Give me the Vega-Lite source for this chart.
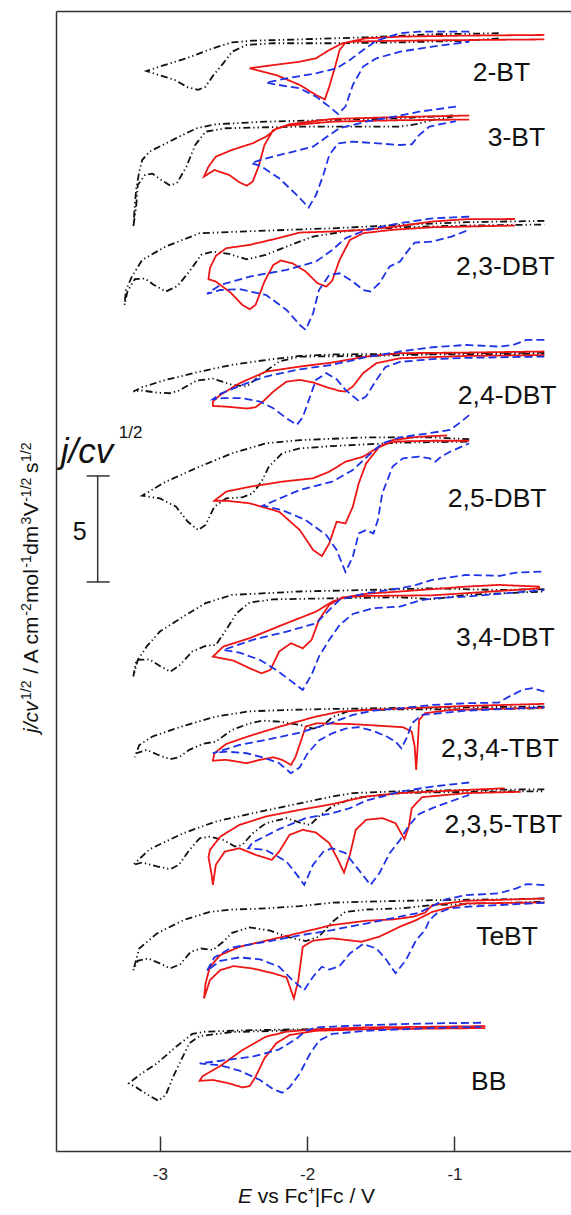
{
"$schema": "https://vega.github.io/schema/vega-lite/v6.json",
"autosize": {"type": "none"},
"padding": {"left": 56, "top": 11, "right": 0, "bottom": 64},
"width": 515,
"height": 1140,
"config": {"view": {"stroke": null}, "axis": {"grid": false}, "text": {"font": "Liberation Sans"}},
"resolve": {"axis": {"x": "independent", "y": "independent"}},
"datasets": {
"cv": [
{"c":1,"s":"k","E":-0.70,"j":52.72},{"c":1,"s":"k","E":-1.15,"j":52.67},{"c":1,"s":"k","E":-1.60,"j":52.53},{"c":1,"s":"k","E":-2.05,"j":52.43},{"c":1,"s":"k","E":-2.37,"j":52.37},{"c":1,"s":"k","E":-2.51,"j":52.29},{"c":1,"s":"k","E":-2.64,"j":52.01},{"c":1,"s":"k","E":-2.82,"j":51.54},{"c":1,"s":"k","E":-3.00,"j":51.15},{"c":1,"s":"k","E":-3.09,"j":50.94},{"c":1,"s":"k","E":-3.03,"j":50.80},{"c":1,"s":"k","E":-2.90,"j":50.52},{"c":1,"s":"k","E":-2.81,"j":50.17},{"c":1,"s":"k","E":-2.74,"j":50.05},{"c":1,"s":"k","E":-2.69,"j":50.20},{"c":1,"s":"k","E":-2.64,"j":50.71},{"c":1,"s":"k","E":-2.57,"j":51.30},{"c":1,"s":"k","E":-2.51,"j":51.85},{"c":1,"s":"k","E":-2.41,"j":52.17},{"c":1,"s":"k","E":-2.23,"j":52.25},{"c":1,"s":"k","E":-1.83,"j":52.25},{"c":1,"s":"k","E":-1.37,"j":52.29},{"c":1,"s":"k","E":-0.92,"j":52.37},{"c":1,"s":"k","E":-0.70,"j":52.48},
{"c":1,"s":"r","E":-0.39,"j":52.64},{"c":1,"s":"r","E":-0.92,"j":52.61},{"c":1,"s":"r","E":-1.37,"j":52.56},{"c":1,"s":"r","E":-1.60,"j":52.48},{"c":1,"s":"r","E":-1.74,"j":52.28},{"c":1,"s":"r","E":-1.78,"j":51.93},{"c":1,"s":"r","E":-1.81,"j":51.15},{"c":1,"s":"r","E":-1.85,"j":50.20},{"c":1,"s":"r","E":-1.88,"j":49.60},{"c":1,"s":"r","E":-1.94,"j":49.81},{"c":1,"s":"r","E":-2.05,"j":50.28},{"c":1,"s":"r","E":-2.21,"j":50.75},{"c":1,"s":"r","E":-2.39,"j":51.07},{"c":1,"s":"r","E":-2.23,"j":51.22},{"c":1,"s":"r","E":-2.05,"j":51.38},{"c":1,"s":"r","E":-1.94,"j":51.54},{"c":1,"s":"r","E":-1.85,"j":51.93},{"c":1,"s":"r","E":-1.76,"j":52.25},{"c":1,"s":"r","E":-1.69,"j":52.33},{"c":1,"s":"r","E":-1.37,"j":52.37},{"c":1,"s":"r","E":-0.92,"j":52.40},{"c":1,"s":"r","E":-0.39,"j":52.43},
{"c":1,"s":"b","E":-0.90,"j":52.80},{"c":1,"s":"b","E":-1.24,"j":52.80},{"c":1,"s":"b","E":-1.37,"j":52.72},{"c":1,"s":"b","E":-1.53,"j":52.37},{"c":1,"s":"b","E":-1.62,"j":51.93},{"c":1,"s":"b","E":-1.71,"j":51.46},{"c":1,"s":"b","E":-1.80,"j":51.07},{"c":1,"s":"b","E":-1.94,"j":50.83},{"c":1,"s":"b","E":-2.14,"j":50.59},{"c":1,"s":"b","E":-2.28,"j":50.39},{"c":1,"s":"b","E":-2.19,"j":50.28},{"c":1,"s":"b","E":-2.05,"j":50.12},{"c":1,"s":"b","E":-1.94,"j":49.73},{"c":1,"s":"b","E":-1.85,"j":49.26},{"c":1,"s":"b","E":-1.79,"j":48.91},{"c":1,"s":"b","E":-1.74,"j":49.26},{"c":1,"s":"b","E":-1.69,"j":50.28},{"c":1,"s":"b","E":-1.62,"j":51.15},{"c":1,"s":"b","E":-1.53,"j":51.54},{"c":1,"s":"b","E":-1.37,"j":51.85},{"c":1,"s":"b","E":-1.15,"j":52.09},{"c":1,"s":"b","E":-0.90,"j":52.32},
{"c":2,"s":"k","E":-1.01,"j":48.84},{"c":2,"s":"k","E":-1.37,"j":48.71},{"c":2,"s":"k","E":-1.83,"j":48.63},{"c":2,"s":"k","E":-2.28,"j":48.55},{"c":2,"s":"k","E":-2.62,"j":48.43},{"c":2,"s":"k","E":-2.75,"j":48.24},{"c":2,"s":"k","E":-2.87,"j":47.84},{"c":2,"s":"k","E":-2.98,"j":47.45},{"c":2,"s":"k","E":-3.07,"j":47.14},{"c":2,"s":"k","E":-3.12,"j":46.74},{"c":2,"s":"k","E":-3.14,"j":46.19},{"c":2,"s":"k","E":-3.16,"j":45.41},{"c":2,"s":"k","E":-3.17,"j":44.62},{"c":2,"s":"k","E":-3.18,"j":43.58},{"c":2,"s":"k","E":-3.16,"j":44.62},{"c":2,"s":"k","E":-3.15,"j":45.56},{"c":2,"s":"k","E":-3.10,"j":46.04},{"c":2,"s":"k","E":-3.05,"j":46.10},{"c":2,"s":"k","E":-2.99,"j":45.80},{"c":2,"s":"k","E":-2.93,"j":45.53},{"c":2,"s":"k","E":-2.88,"j":45.69},{"c":2,"s":"k","E":-2.82,"j":46.43},{"c":2,"s":"k","E":-2.76,"j":47.45},{"c":2,"s":"k","E":-2.69,"j":48.08},{"c":2,"s":"k","E":-2.55,"j":48.24},{"c":2,"s":"k","E":-2.05,"j":48.32},{"c":2,"s":"k","E":-1.37,"j":48.32},{"c":2,"s":"k","E":-1.26,"j":48.43},{"c":2,"s":"k","E":-1.15,"j":48.63},{"c":2,"s":"k","E":-1.01,"j":48.79},
{"c":2,"s":"r","E":-0.90,"j":48.84},{"c":2,"s":"r","E":-1.37,"j":48.77},{"c":2,"s":"r","E":-1.83,"j":48.68},{"c":2,"s":"r","E":-2.12,"j":48.43},{"c":2,"s":"r","E":-2.21,"j":48.21},{"c":2,"s":"r","E":-2.28,"j":47.84},{"c":2,"s":"r","E":-2.37,"j":47.53},{"c":2,"s":"r","E":-2.51,"j":47.22},{"c":2,"s":"r","E":-2.62,"j":46.90},{"c":2,"s":"r","E":-2.67,"j":46.43},{"c":2,"s":"r","E":-2.70,"j":45.96},{"c":2,"s":"r","E":-2.63,"j":46.27},{"c":2,"s":"r","E":-2.53,"j":46.04},{"c":2,"s":"r","E":-2.46,"j":45.69},{"c":2,"s":"r","E":-2.41,"j":45.53},{"c":2,"s":"r","E":-2.37,"j":45.72},{"c":2,"s":"r","E":-2.33,"j":46.43},{"c":2,"s":"r","E":-2.29,"j":47.45},{"c":2,"s":"r","E":-2.23,"j":48.16},{"c":2,"s":"r","E":-2.14,"j":48.36},{"c":2,"s":"r","E":-1.83,"j":48.55},{"c":2,"s":"r","E":-1.37,"j":48.62},{"c":2,"s":"r","E":-0.90,"j":48.65},
{"c":2,"s":"b","E":-0.99,"j":49.26},{"c":2,"s":"b","E":-1.24,"j":49.02},{"c":2,"s":"b","E":-1.37,"j":48.84},{"c":2,"s":"b","E":-1.60,"j":48.55},{"c":2,"s":"b","E":-1.78,"j":48.24},{"c":2,"s":"b","E":-1.85,"j":47.92},{"c":2,"s":"b","E":-1.96,"j":47.37},{"c":2,"s":"b","E":-2.14,"j":47.06},{"c":2,"s":"b","E":-2.32,"j":46.74},{"c":2,"s":"b","E":-2.38,"j":46.59},{"c":2,"s":"b","E":-2.32,"j":46.48},{"c":2,"s":"b","E":-2.19,"j":45.88},{"c":2,"s":"b","E":-2.07,"j":45.09},{"c":2,"s":"b","E":-1.99,"j":44.50},{"c":2,"s":"b","E":-1.94,"j":45.09},{"c":2,"s":"b","E":-1.89,"j":46.04},{"c":2,"s":"b","E":-1.85,"j":46.98},{"c":2,"s":"b","E":-1.79,"j":47.53},{"c":2,"s":"b","E":-1.69,"j":47.61},{"c":2,"s":"b","E":-1.37,"j":47.45},{"c":2,"s":"b","E":-1.29,"j":47.48},{"c":2,"s":"b","E":-1.24,"j":47.92},{"c":2,"s":"b","E":-1.17,"j":48.32},{"c":2,"s":"b","E":-0.99,"j":48.58},
{"c":3,"s":"k","E":-0.39,"j":43.87},{"c":3,"s":"k","E":-0.92,"j":43.81},{"c":3,"s":"k","E":-1.37,"j":43.68},{"c":3,"s":"k","E":-1.83,"j":43.52},{"c":3,"s":"k","E":-2.28,"j":43.41},{"c":3,"s":"k","E":-2.73,"j":43.29},{"c":3,"s":"k","E":-2.96,"j":42.66},{"c":3,"s":"k","E":-3.12,"j":42.03},{"c":3,"s":"k","E":-3.19,"j":41.24},{"c":3,"s":"k","E":-3.23,"j":40.61},{"c":3,"s":"k","E":-3.24,"j":39.91},{"c":3,"s":"k","E":-3.22,"j":40.54},{"c":3,"s":"k","E":-3.17,"j":41.12},{"c":3,"s":"k","E":-3.10,"j":41.15},{"c":3,"s":"k","E":-3.04,"j":40.85},{"c":3,"s":"k","E":-2.96,"j":40.54},{"c":3,"s":"k","E":-2.88,"j":40.80},{"c":3,"s":"k","E":-2.80,"j":41.48},{"c":3,"s":"k","E":-2.72,"j":42.27},{"c":3,"s":"k","E":-2.64,"j":42.42},{"c":3,"s":"k","E":-2.53,"j":42.31},{"c":3,"s":"k","E":-2.41,"j":42.06},{"c":3,"s":"k","E":-2.28,"j":42.27},{"c":3,"s":"k","E":-2.14,"j":42.66},{"c":3,"s":"k","E":-1.96,"j":43.13},{"c":3,"s":"k","E":-1.71,"j":43.41},{"c":3,"s":"k","E":-1.37,"j":43.57},{"c":3,"s":"k","E":-0.92,"j":43.65},{"c":3,"s":"k","E":-0.39,"j":43.70},
{"c":3,"s":"r","E":-0.59,"j":43.96},{"c":3,"s":"r","E":-0.92,"j":43.95},{"c":3,"s":"r","E":-1.15,"j":43.84},{"c":3,"s":"r","E":-1.37,"j":43.63},{"c":3,"s":"r","E":-1.60,"j":43.45},{"c":3,"s":"r","E":-1.83,"j":43.37},{"c":3,"s":"r","E":-2.05,"j":43.32},{"c":3,"s":"r","E":-2.23,"j":43.00},{"c":3,"s":"r","E":-2.39,"j":42.74},{"c":3,"s":"r","E":-2.55,"j":42.58},{"c":3,"s":"r","E":-2.62,"j":42.22},{"c":3,"s":"r","E":-2.66,"j":41.64},{"c":3,"s":"r","E":-2.67,"j":41.12},{"c":3,"s":"r","E":-2.62,"j":41.01},{"c":3,"s":"r","E":-2.52,"j":40.49},{"c":3,"s":"r","E":-2.44,"j":39.91},{"c":3,"s":"r","E":-2.39,"j":39.70},{"c":3,"s":"r","E":-2.35,"j":39.91},{"c":3,"s":"r","E":-2.29,"j":41.01},{"c":3,"s":"r","E":-2.23,"j":41.79},{"c":3,"s":"r","E":-2.18,"j":42.00},{"c":3,"s":"r","E":-2.10,"j":41.87},{"c":3,"s":"r","E":-2.01,"j":41.48},{"c":3,"s":"r","E":-1.93,"j":40.93},{"c":3,"s":"r","E":-1.87,"j":40.77},{"c":3,"s":"r","E":-1.83,"j":41.05},{"c":3,"s":"r","E":-1.78,"j":42.03},{"c":3,"s":"r","E":-1.71,"j":42.97},{"c":3,"s":"r","E":-1.62,"j":43.29},{"c":3,"s":"r","E":-1.42,"j":43.45},{"c":3,"s":"r","E":-1.15,"j":43.57},{"c":3,"s":"r","E":-0.59,"j":43.65},
{"c":3,"s":"b","E":-0.90,"j":44.07},{"c":3,"s":"b","E":-1.15,"j":43.99},{"c":3,"s":"b","E":-1.37,"j":43.76},{"c":3,"s":"b","E":-1.60,"j":43.45},{"c":3,"s":"b","E":-1.74,"j":43.05},{"c":3,"s":"b","E":-1.83,"j":42.50},{"c":3,"s":"b","E":-1.94,"j":41.95},{"c":3,"s":"b","E":-2.14,"j":41.56},{"c":3,"s":"b","E":-2.39,"j":41.24},{"c":3,"s":"b","E":-2.59,"j":40.85},{"c":3,"s":"b","E":-2.68,"j":40.43},{"c":3,"s":"b","E":-2.59,"j":40.61},{"c":3,"s":"b","E":-2.46,"j":40.65},{"c":3,"s":"b","E":-2.28,"j":40.38},{"c":3,"s":"b","E":-2.14,"j":39.67},{"c":3,"s":"b","E":-2.05,"j":38.96},{"c":3,"s":"b","E":-2.01,"j":38.73},{"c":3,"s":"b","E":-1.96,"j":39.51},{"c":3,"s":"b","E":-1.92,"j":40.61},{"c":3,"s":"b","E":-1.85,"j":41.32},{"c":3,"s":"b","E":-1.78,"j":41.40},{"c":3,"s":"b","E":-1.69,"j":41.01},{"c":3,"s":"b","E":-1.62,"j":40.61},{"c":3,"s":"b","E":-1.57,"j":40.54},{"c":3,"s":"b","E":-1.51,"j":40.93},{"c":3,"s":"b","E":-1.44,"j":41.72},{"c":3,"s":"b","E":-1.37,"j":41.95},{"c":3,"s":"b","E":-1.33,"j":42.34},{"c":3,"s":"b","E":-1.27,"j":42.85},{"c":3,"s":"b","E":-1.15,"j":42.89},{"c":3,"s":"b","E":-1.02,"j":43.13},{"c":3,"s":"b","E":-0.90,"j":43.45},
{"c":4,"s":"k","E":-0.39,"j":37.66},{"c":4,"s":"k","E":-0.92,"j":37.63},{"c":4,"s":"k","E":-1.37,"j":37.60},{"c":4,"s":"k","E":-1.83,"j":37.57},{"c":4,"s":"k","E":-2.05,"j":37.50},{"c":4,"s":"k","E":-2.28,"j":37.31},{"c":4,"s":"k","E":-2.51,"j":37.08},{"c":4,"s":"k","E":-2.73,"j":36.76},{"c":4,"s":"k","E":-2.96,"j":36.37},{"c":4,"s":"k","E":-3.12,"j":36.03},{"c":4,"s":"k","E":-3.18,"j":35.82},{"c":4,"s":"k","E":-3.12,"j":35.87},{"c":4,"s":"k","E":-3.02,"j":35.77},{"c":4,"s":"k","E":-2.93,"j":35.74},{"c":4,"s":"k","E":-2.87,"j":35.87},{"c":4,"s":"k","E":-2.75,"j":36.34},{"c":4,"s":"k","E":-2.64,"j":36.43},{"c":4,"s":"k","E":-2.51,"j":36.14},{"c":4,"s":"k","E":-2.41,"j":36.06},{"c":4,"s":"k","E":-2.30,"j":36.69},{"c":4,"s":"k","E":-2.19,"j":37.24},{"c":4,"s":"k","E":-2.05,"j":37.47},{"c":4,"s":"k","E":-1.60,"j":37.50},{"c":4,"s":"k","E":-1.15,"j":37.57},{"c":4,"s":"k","E":-0.39,"j":37.60},
{"c":4,"s":"r","E":-0.39,"j":37.71},{"c":4,"s":"r","E":-0.92,"j":37.66},{"c":4,"s":"r","E":-1.37,"j":37.63},{"c":4,"s":"r","E":-1.60,"j":37.47},{"c":4,"s":"r","E":-1.83,"j":37.19},{"c":4,"s":"r","E":-2.05,"j":37.00},{"c":4,"s":"r","E":-2.28,"j":36.76},{"c":4,"s":"r","E":-2.46,"j":36.21},{"c":4,"s":"r","E":-2.59,"j":35.66},{"c":4,"s":"r","E":-2.64,"j":35.35},{"c":4,"s":"r","E":-2.64,"j":35.14},{"c":4,"s":"r","E":-2.55,"j":35.11},{"c":4,"s":"r","E":-2.41,"j":35.02},{"c":4,"s":"r","E":-2.35,"j":35.08},{"c":4,"s":"r","E":-2.30,"j":35.35},{"c":4,"s":"r","E":-2.23,"j":35.82},{"c":4,"s":"r","E":-2.14,"j":36.29},{"c":4,"s":"r","E":-2.05,"j":36.37},{"c":4,"s":"r","E":-1.96,"j":36.25},{"c":4,"s":"r","E":-1.87,"j":36.03},{"c":4,"s":"r","E":-1.78,"j":35.85},{"c":4,"s":"r","E":-1.74,"j":35.82},{"c":4,"s":"r","E":-1.69,"j":36.06},{"c":4,"s":"r","E":-1.62,"j":36.69},{"c":4,"s":"r","E":-1.53,"j":37.16},{"c":4,"s":"r","E":-1.37,"j":37.39},{"c":4,"s":"r","E":-0.92,"j":37.50},{"c":4,"s":"r","E":-0.39,"j":37.54},
{"c":4,"s":"b","E":-0.39,"j":38.26},{"c":4,"s":"b","E":-0.51,"j":38.26},{"c":4,"s":"b","E":-0.60,"j":38.02},{"c":4,"s":"b","E":-0.69,"j":37.94},{"c":4,"s":"b","E":-0.92,"j":38.02},{"c":4,"s":"b","E":-1.15,"j":37.91},{"c":4,"s":"b","E":-1.37,"j":37.71},{"c":4,"s":"b","E":-1.60,"j":37.44},{"c":4,"s":"b","E":-1.83,"j":37.08},{"c":4,"s":"b","E":-2.05,"j":36.87},{"c":4,"s":"b","E":-2.28,"j":36.53},{"c":4,"s":"b","E":-2.44,"j":36.14},{"c":4,"s":"b","E":-2.59,"j":35.71},{"c":4,"s":"b","E":-2.64,"j":35.46},{"c":4,"s":"b","E":-2.57,"j":35.51},{"c":4,"s":"b","E":-2.44,"j":35.51},{"c":4,"s":"b","E":-2.32,"j":35.35},{"c":4,"s":"b","E":-2.23,"j":35.03},{"c":4,"s":"b","E":-2.14,"j":34.56},{"c":4,"s":"b","E":-2.07,"j":34.25},{"c":4,"s":"b","E":-2.03,"j":34.61},{"c":4,"s":"b","E":-1.98,"j":35.59},{"c":4,"s":"b","E":-1.94,"j":36.37},{"c":4,"s":"b","E":-1.87,"j":36.69},{"c":4,"s":"b","E":-1.80,"j":36.40},{"c":4,"s":"b","E":-1.74,"j":35.90},{"c":4,"s":"b","E":-1.65,"j":35.38},{"c":4,"s":"b","E":-1.60,"j":35.59},{"c":4,"s":"b","E":-1.53,"j":36.37},{"c":4,"s":"b","E":-1.47,"j":36.97},{"c":4,"s":"b","E":-1.37,"j":37.22},{"c":4,"s":"b","E":-1.15,"j":37.35},{"c":4,"s":"b","E":-0.92,"j":37.41},{"c":4,"s":"b","E":-0.39,"j":37.47},
{"c":5,"s":"k","E":-0.90,"j":33.57},{"c":5,"s":"k","E":-1.15,"j":33.66},{"c":5,"s":"k","E":-1.60,"j":33.66},{"c":5,"s":"k","E":-2.05,"j":33.53},{"c":5,"s":"k","E":-2.28,"j":33.38},{"c":5,"s":"k","E":-2.51,"j":32.91},{"c":5,"s":"k","E":-2.73,"j":32.28},{"c":5,"s":"k","E":-2.96,"j":31.57},{"c":5,"s":"k","E":-3.12,"j":30.91},{"c":5,"s":"k","E":-3.00,"j":30.78},{"c":5,"s":"k","E":-2.89,"j":30.39},{"c":5,"s":"k","E":-2.81,"j":29.68},{"c":5,"s":"k","E":-2.74,"j":29.29},{"c":5,"s":"k","E":-2.69,"j":29.53},{"c":5,"s":"k","E":-2.63,"j":30.39},{"c":5,"s":"k","E":-2.55,"j":30.78},{"c":5,"s":"k","E":-2.44,"j":30.83},{"c":5,"s":"k","E":-2.37,"j":31.02},{"c":5,"s":"k","E":-2.31,"j":31.57},{"c":5,"s":"k","E":-2.26,"j":32.28},{"c":5,"s":"k","E":-2.17,"j":32.91},{"c":5,"s":"k","E":-2.05,"j":33.14},{"c":5,"s":"k","E":-1.83,"j":33.25},{"c":5,"s":"k","E":-1.37,"j":33.41},{"c":5,"s":"k","E":-0.90,"j":33.46},
{"c":5,"s":"r","E":-0.90,"j":33.50},{"c":5,"s":"r","E":-1.15,"j":33.50},{"c":5,"s":"r","E":-1.37,"j":33.47},{"c":5,"s":"r","E":-1.44,"j":33.41},{"c":5,"s":"r","E":-1.53,"j":33.14},{"c":5,"s":"r","E":-1.62,"j":32.75},{"c":5,"s":"r","E":-1.74,"j":32.51},{"c":5,"s":"r","E":-1.85,"j":32.04},{"c":5,"s":"r","E":-1.96,"j":31.73},{"c":5,"s":"r","E":-2.17,"j":31.57},{"c":5,"s":"r","E":-2.39,"j":31.33},{"c":5,"s":"r","E":-2.55,"j":31.10},{"c":5,"s":"r","E":-2.63,"j":30.67},{"c":5,"s":"r","E":-2.55,"j":30.67},{"c":5,"s":"r","E":-2.39,"j":30.55},{"c":5,"s":"r","E":-2.19,"j":30.15},{"c":5,"s":"r","E":-2.05,"j":29.29},{"c":5,"s":"r","E":-1.96,"j":28.35},{"c":5,"s":"r","E":-1.90,"j":28.06},{"c":5,"s":"r","E":-1.85,"j":28.66},{"c":5,"s":"r","E":-1.80,"j":29.68},{"c":5,"s":"r","E":-1.74,"j":29.60},{"c":5,"s":"r","E":-1.69,"j":30.39},{"c":5,"s":"r","E":-1.65,"j":31.49},{"c":5,"s":"r","E":-1.60,"j":32.43},{"c":5,"s":"r","E":-1.51,"j":33.22},{"c":5,"s":"r","E":-1.42,"j":33.53},{"c":5,"s":"r","E":-1.24,"j":33.69},{"c":5,"s":"r","E":-1.05,"j":33.75},
{"c":5,"s":"b","E":-0.90,"j":34.71},{"c":5,"s":"b","E":-0.97,"j":34.32},{"c":5,"s":"b","E":-1.03,"j":34.01},{"c":5,"s":"b","E":-1.15,"j":33.88},{"c":5,"s":"b","E":-1.26,"j":33.77},{"c":5,"s":"b","E":-1.37,"j":33.66},{"c":5,"s":"b","E":-1.49,"j":33.38},{"c":5,"s":"b","E":-1.58,"j":32.83},{"c":5,"s":"b","E":-1.69,"j":32.12},{"c":5,"s":"b","E":-1.83,"j":31.57},{"c":5,"s":"b","E":-2.05,"j":31.18},{"c":5,"s":"b","E":-2.30,"j":30.44},{"c":5,"s":"b","E":-2.17,"j":30.23},{"c":5,"s":"b","E":-2.01,"j":29.76},{"c":5,"s":"b","E":-1.87,"j":29.05},{"c":5,"s":"b","E":-1.80,"j":28.35},{"c":5,"s":"b","E":-1.74,"j":27.31},{"c":5,"s":"b","E":-1.69,"j":28.03},{"c":5,"s":"b","E":-1.65,"j":29.13},{"c":5,"s":"b","E":-1.60,"j":29.29},{"c":5,"s":"b","E":-1.55,"j":29.13},{"c":5,"s":"b","E":-1.52,"j":29.76},{"c":5,"s":"b","E":-1.49,"j":31.02},{"c":5,"s":"b","E":-1.42,"j":32.28},{"c":5,"s":"b","E":-1.35,"j":32.67},{"c":5,"s":"b","E":-1.24,"j":32.75},{"c":5,"s":"b","E":-1.17,"j":32.67},{"c":5,"s":"b","E":-1.13,"j":32.51},{"c":5,"s":"b","E":-1.09,"j":32.75},{"c":5,"s":"b","E":-1.03,"j":32.98},{"c":5,"s":"b","E":-0.90,"j":33.38},
{"c":6,"s":"k","E":-0.39,"j":26.50},{"c":6,"s":"k","E":-0.70,"j":26.46},{"c":6,"s":"k","E":-1.15,"j":26.54},{"c":6,"s":"k","E":-1.60,"j":26.46},{"c":6,"s":"k","E":-2.05,"j":26.39},{"c":6,"s":"k","E":-2.28,"j":26.31},{"c":6,"s":"k","E":-2.51,"j":26.23},{"c":6,"s":"k","E":-2.69,"j":25.84},{"c":6,"s":"k","E":-2.84,"j":25.21},{"c":6,"s":"k","E":-3.00,"j":24.50},{"c":6,"s":"k","E":-3.09,"j":23.79},{"c":6,"s":"k","E":-3.15,"j":23.16},{"c":6,"s":"k","E":-3.18,"j":22.38},{"c":6,"s":"k","E":-3.16,"j":23.16},{"c":6,"s":"k","E":-3.07,"j":23.19},{"c":6,"s":"k","E":-3.00,"j":22.88},{"c":6,"s":"k","E":-2.93,"j":22.61},{"c":6,"s":"k","E":-2.87,"j":22.88},{"c":6,"s":"k","E":-2.78,"j":23.56},{"c":6,"s":"k","E":-2.69,"j":23.82},{"c":6,"s":"k","E":-2.62,"j":23.87},{"c":6,"s":"k","E":-2.55,"j":24.58},{"c":6,"s":"k","E":-2.48,"j":25.36},{"c":6,"s":"k","E":-2.39,"j":25.87},{"c":6,"s":"k","E":-2.23,"j":26.02},{"c":6,"s":"k","E":-1.83,"j":26.07},{"c":6,"s":"k","E":-1.37,"j":26.12},{"c":6,"s":"k","E":-1.15,"j":26.02},{"c":6,"s":"k","E":-0.92,"j":26.23},{"c":6,"s":"k","E":-0.39,"j":26.39},
{"c":6,"s":"r","E":-0.42,"j":26.62},{"c":6,"s":"r","E":-0.70,"j":26.70},{"c":6,"s":"r","E":-0.92,"j":26.62},{"c":6,"s":"r","E":-1.15,"j":26.50},{"c":6,"s":"r","E":-1.37,"j":26.39},{"c":6,"s":"r","E":-1.60,"j":26.28},{"c":6,"s":"r","E":-1.74,"j":26.12},{"c":6,"s":"r","E":-1.83,"j":25.91},{"c":6,"s":"r","E":-1.94,"j":25.44},{"c":6,"s":"r","E":-2.17,"j":24.81},{"c":6,"s":"r","E":-2.39,"j":24.19},{"c":6,"s":"r","E":-2.57,"j":23.79},{"c":6,"s":"r","E":-2.64,"j":23.32},{"c":6,"s":"r","E":-2.50,"j":23.13},{"c":6,"s":"r","E":-2.39,"j":22.77},{"c":6,"s":"r","E":-2.31,"j":22.53},{"c":6,"s":"r","E":-2.25,"j":22.69},{"c":6,"s":"r","E":-2.19,"j":23.56},{"c":6,"s":"r","E":-2.11,"j":23.95},{"c":6,"s":"r","E":-2.03,"j":23.71},{"c":6,"s":"r","E":-1.97,"j":24.11},{"c":6,"s":"r","E":-1.92,"j":25.05},{"c":6,"s":"r","E":-1.85,"j":25.76},{"c":6,"s":"r","E":-1.76,"j":26.12},{"c":6,"s":"r","E":-1.60,"j":26.18},{"c":6,"s":"r","E":-1.15,"j":26.21},{"c":6,"s":"r","E":-0.92,"j":26.31},{"c":6,"s":"r","E":-0.42,"j":26.54},
{"c":6,"s":"b","E":-0.41,"j":27.33},{"c":6,"s":"b","E":-0.58,"j":27.28},{"c":6,"s":"b","E":-0.69,"j":27.13},{"c":6,"s":"b","E":-0.92,"j":27.17},{"c":6,"s":"b","E":-1.15,"j":26.94},{"c":6,"s":"b","E":-1.26,"j":26.70},{"c":6,"s":"b","E":-1.37,"j":26.54},{"c":6,"s":"b","E":-1.60,"j":26.31},{"c":6,"s":"b","E":-1.78,"j":26.00},{"c":6,"s":"b","E":-1.85,"j":25.52},{"c":6,"s":"b","E":-1.94,"j":24.89},{"c":6,"s":"b","E":-2.14,"j":24.50},{"c":6,"s":"b","E":-2.37,"j":24.11},{"c":6,"s":"b","E":-2.57,"j":23.63},{"c":6,"s":"b","E":-2.46,"j":23.51},{"c":6,"s":"b","E":-2.32,"j":23.16},{"c":6,"s":"b","E":-2.21,"j":22.69},{"c":6,"s":"b","E":-2.12,"j":22.22},{"c":6,"s":"b","E":-2.03,"j":21.75},{"c":6,"s":"b","E":-1.97,"j":22.46},{"c":6,"s":"b","E":-1.92,"j":23.32},{"c":6,"s":"b","E":-1.85,"j":24.11},{"c":6,"s":"b","E":-1.78,"j":24.81},{"c":6,"s":"b","E":-1.69,"j":25.33},{"c":6,"s":"b","E":-1.55,"j":25.60},{"c":6,"s":"b","E":-1.37,"j":25.68},{"c":6,"s":"b","E":-1.24,"j":25.96},{"c":6,"s":"b","E":-1.15,"j":26.07},{"c":6,"s":"b","E":-0.92,"j":26.15},{"c":6,"s":"b","E":-0.39,"j":26.46},
{"c":7,"s":"k","E":-0.39,"j":20.96},{"c":7,"s":"k","E":-0.92,"j":20.93},{"c":7,"s":"k","E":-1.37,"j":20.90},{"c":7,"s":"k","E":-1.83,"j":20.85},{"c":7,"s":"k","E":-2.05,"j":20.82},{"c":7,"s":"k","E":-2.39,"j":20.74},{"c":7,"s":"k","E":-2.62,"j":20.49},{"c":7,"s":"k","E":-2.84,"j":20.05},{"c":7,"s":"k","E":-3.05,"j":19.55},{"c":7,"s":"k","E":-3.14,"j":19.15},{"c":7,"s":"k","E":-3.17,"j":18.57},{"c":7,"s":"k","E":-3.16,"j":18.76},{"c":7,"s":"k","E":-3.09,"j":18.92},{"c":7,"s":"k","E":-3.01,"j":18.68},{"c":7,"s":"k","E":-2.93,"j":18.48},{"c":7,"s":"k","E":-2.87,"j":18.57},{"c":7,"s":"k","E":-2.80,"j":18.92},{"c":7,"s":"k","E":-2.71,"j":19.20},{"c":7,"s":"k","E":-2.62,"j":19.31},{"c":7,"s":"k","E":-2.51,"j":19.86},{"c":7,"s":"k","E":-2.39,"j":20.17},{"c":7,"s":"k","E":-2.30,"j":20.30},{"c":7,"s":"k","E":-2.19,"j":20.25},{"c":7,"s":"k","E":-2.05,"j":20.10},{"c":7,"s":"k","E":-1.96,"j":19.92},{"c":7,"s":"k","E":-1.90,"j":20.02},{"c":7,"s":"k","E":-1.83,"j":20.46},{"c":7,"s":"k","E":-1.71,"j":20.77},{"c":7,"s":"k","E":-1.37,"j":20.83},{"c":7,"s":"k","E":-0.92,"j":20.83},{"c":7,"s":"k","E":-0.39,"j":20.88},
{"c":7,"s":"r","E":-0.39,"j":21.09},{"c":7,"s":"r","E":-0.92,"j":20.99},{"c":7,"s":"r","E":-1.37,"j":20.87},{"c":7,"s":"r","E":-1.60,"j":20.80},{"c":7,"s":"r","E":-1.78,"j":20.72},{"c":7,"s":"r","E":-1.94,"j":20.49},{"c":7,"s":"r","E":-2.17,"j":20.05},{"c":7,"s":"r","E":-2.39,"j":19.58},{"c":7,"s":"r","E":-2.55,"j":19.20},{"c":7,"s":"r","E":-2.63,"j":18.76},{"c":7,"s":"r","E":-2.64,"j":18.41},{"c":7,"s":"r","E":-2.55,"j":18.45},{"c":7,"s":"r","E":-2.41,"j":18.29},{"c":7,"s":"r","E":-2.32,"j":18.45},{"c":7,"s":"r","E":-2.23,"j":18.57},{"c":7,"s":"r","E":-2.17,"j":18.45},{"c":7,"s":"r","E":-2.11,"j":18.21},{"c":7,"s":"r","E":-2.08,"j":18.57},{"c":7,"s":"r","E":-2.04,"j":19.39},{"c":7,"s":"r","E":-2.01,"j":20.02},{"c":7,"s":"r","E":-1.94,"j":20.17},{"c":7,"s":"r","E":-1.71,"j":20.14},{"c":7,"s":"r","E":-1.49,"j":20.05},{"c":7,"s":"r","E":-1.35,"j":19.99},{"c":7,"s":"r","E":-1.29,"j":19.78},{"c":7,"s":"r","E":-1.27,"j":19.07},{"c":7,"s":"r","E":-1.26,"j":17.97},{"c":7,"s":"r","E":-1.25,"j":19.07},{"c":7,"s":"r","E":-1.24,"j":20.33},{"c":7,"s":"r","E":-1.20,"j":20.65},{"c":7,"s":"r","E":-1.03,"j":20.80},{"c":7,"s":"r","E":-0.39,"j":20.91},
{"c":7,"s":"b","E":-0.39,"j":21.67},{"c":7,"s":"b","E":-0.47,"j":21.83},{"c":7,"s":"b","E":-0.54,"j":21.75},{"c":7,"s":"b","E":-0.63,"j":21.43},{"c":7,"s":"b","E":-0.70,"j":21.15},{"c":7,"s":"b","E":-0.92,"j":21.12},{"c":7,"s":"b","E":-1.15,"j":21.04},{"c":7,"s":"b","E":-1.37,"j":20.88},{"c":7,"s":"b","E":-1.55,"j":20.77},{"c":7,"s":"b","E":-1.69,"j":20.57},{"c":7,"s":"b","E":-1.83,"j":20.21},{"c":7,"s":"b","E":-2.05,"j":19.73},{"c":7,"s":"b","E":-2.28,"j":19.39},{"c":7,"s":"b","E":-2.46,"j":19.15},{"c":7,"s":"b","E":-2.64,"j":18.76},{"c":7,"s":"b","E":-2.55,"j":18.84},{"c":7,"s":"b","E":-2.41,"j":18.76},{"c":7,"s":"b","E":-2.28,"j":18.52},{"c":7,"s":"b","E":-2.19,"j":18.29},{"c":7,"s":"b","E":-2.11,"j":17.82},{"c":7,"s":"b","E":-2.05,"j":18.10},{"c":7,"s":"b","E":-2.00,"j":18.73},{"c":7,"s":"b","E":-1.92,"j":19.36},{"c":7,"s":"b","E":-1.83,"j":19.70},{"c":7,"s":"b","E":-1.74,"j":19.92},{"c":7,"s":"b","E":-1.65,"j":19.99},{"c":7,"s":"b","E":-1.55,"j":19.81},{"c":7,"s":"b","E":-1.46,"j":19.55},{"c":7,"s":"b","E":-1.40,"j":19.31},{"c":7,"s":"b","E":-1.36,"j":18.99},{"c":7,"s":"b","E":-1.32,"j":19.55},{"c":7,"s":"b","E":-1.29,"j":20.17},{"c":7,"s":"b","E":-1.22,"j":20.57},{"c":7,"s":"b","E":-0.92,"j":20.77},{"c":7,"s":"b","E":-0.39,"j":20.93},
{"c":8,"s":"k","E":-0.39,"j":17.06},{"c":8,"s":"k","E":-0.92,"j":17.03},{"c":8,"s":"k","E":-1.37,"j":16.97},{"c":8,"s":"k","E":-1.69,"j":16.88},{"c":8,"s":"k","E":-1.83,"j":16.72},{"c":8,"s":"k","E":-2.05,"j":16.40},{"c":8,"s":"k","E":-2.39,"j":15.90},{"c":8,"s":"k","E":-2.62,"j":15.54},{"c":8,"s":"k","E":-2.84,"j":14.99},{"c":8,"s":"k","E":-3.07,"j":14.23},{"c":8,"s":"k","E":-3.18,"j":13.50},{"c":8,"s":"k","E":-3.12,"j":13.61},{"c":8,"s":"k","E":-3.02,"j":13.42},{"c":8,"s":"k","E":-2.93,"j":13.29},{"c":8,"s":"k","E":-2.87,"j":13.50},{"c":8,"s":"k","E":-2.80,"j":14.20},{"c":8,"s":"k","E":-2.73,"j":14.75},{"c":8,"s":"k","E":-2.66,"j":14.83},{"c":8,"s":"k","E":-2.57,"j":14.67},{"c":8,"s":"k","E":-2.49,"j":14.36},{"c":8,"s":"k","E":-2.44,"j":14.44},{"c":8,"s":"k","E":-2.37,"j":14.99},{"c":8,"s":"k","E":-2.28,"j":15.46},{"c":8,"s":"k","E":-2.14,"j":15.70},{"c":8,"s":"k","E":-2.05,"j":15.49},{"c":8,"s":"k","E":-1.98,"j":15.38},{"c":8,"s":"k","E":-1.92,"j":15.78},{"c":8,"s":"k","E":-1.83,"j":16.25},{"c":8,"s":"k","E":-1.69,"j":16.64},{"c":8,"s":"k","E":-1.37,"j":16.88},{"c":8,"s":"k","E":-0.92,"j":16.94},{"c":8,"s":"k","E":-0.39,"j":16.97},
{"c":8,"s":"r","E":-0.66,"j":17.11},{"c":8,"s":"r","E":-0.92,"j":17.03},{"c":8,"s":"r","E":-1.37,"j":16.88},{"c":8,"s":"r","E":-1.60,"j":16.72},{"c":8,"s":"r","E":-1.83,"j":16.36},{"c":8,"s":"r","E":-2.05,"j":16.09},{"c":8,"s":"r","E":-2.28,"j":15.78},{"c":8,"s":"r","E":-2.46,"j":15.38},{"c":8,"s":"r","E":-2.59,"j":14.83},{"c":8,"s":"r","E":-2.66,"j":14.20},{"c":8,"s":"r","E":-2.67,"j":13.86},{"c":8,"s":"r","E":-2.65,"j":13.10},{"c":8,"s":"r","E":-2.64,"j":12.55},{"c":8,"s":"r","E":-2.62,"j":13.50},{"c":8,"s":"r","E":-2.56,"j":14.12},{"c":8,"s":"r","E":-2.46,"j":14.28},{"c":8,"s":"r","E":-2.35,"j":13.97},{"c":8,"s":"r","E":-2.24,"j":13.73},{"c":8,"s":"r","E":-2.19,"j":14.12},{"c":8,"s":"r","E":-2.12,"j":14.91},{"c":8,"s":"r","E":-2.03,"j":15.15},{"c":8,"s":"r","E":-1.94,"j":15.02},{"c":8,"s":"r","E":-1.85,"j":14.52},{"c":8,"s":"r","E":-1.79,"j":13.73},{"c":8,"s":"r","E":-1.75,"j":13.13},{"c":8,"s":"r","E":-1.71,"j":13.97},{"c":8,"s":"r","E":-1.67,"j":15.15},{"c":8,"s":"r","E":-1.60,"j":15.62},{"c":8,"s":"r","E":-1.49,"j":15.70},{"c":8,"s":"r","E":-1.40,"j":15.46},{"c":8,"s":"r","E":-1.34,"j":14.71},{"c":8,"s":"r","E":-1.31,"j":15.30},{"c":8,"s":"r","E":-1.29,"j":16.17},{"c":8,"s":"r","E":-1.22,"j":16.69},{"c":8,"s":"r","E":-0.92,"j":16.88},{"c":8,"s":"r","E":-0.55,"j":16.94},
{"c":8,"s":"b","E":-0.90,"j":17.38},{"c":8,"s":"b","E":-1.15,"j":17.19},{"c":8,"s":"b","E":-1.37,"j":16.95},{"c":8,"s":"b","E":-1.49,"j":16.72},{"c":8,"s":"b","E":-1.60,"j":16.53},{"c":8,"s":"b","E":-1.71,"j":16.17},{"c":8,"s":"b","E":-1.83,"j":15.93},{"c":8,"s":"b","E":-2.01,"j":15.70},{"c":8,"s":"b","E":-2.19,"j":15.18},{"c":8,"s":"b","E":-2.37,"j":14.55},{"c":8,"s":"b","E":-2.40,"j":14.28},{"c":8,"s":"b","E":-2.28,"j":14.20},{"c":8,"s":"b","E":-2.14,"j":13.65},{"c":8,"s":"b","E":-2.06,"j":12.94},{"c":8,"s":"b","E":-2.02,"j":12.55},{"c":8,"s":"b","E":-1.96,"j":13.50},{"c":8,"s":"b","E":-1.89,"j":14.12},{"c":8,"s":"b","E":-1.83,"j":14.28},{"c":8,"s":"b","E":-1.74,"j":14.05},{"c":8,"s":"b","E":-1.65,"j":13.26},{"c":8,"s":"b","E":-1.57,"j":12.55},{"c":8,"s":"b","E":-1.51,"j":13.10},{"c":8,"s":"b","E":-1.44,"j":14.05},{"c":8,"s":"b","E":-1.37,"j":14.67},{"c":8,"s":"b","E":-1.31,"j":15.34},{"c":8,"s":"b","E":-1.24,"j":15.90},{"c":8,"s":"b","E":-1.15,"j":16.17},{"c":8,"s":"b","E":-1.03,"j":16.48},{"c":8,"s":"b","E":-0.90,"j":16.80},
{"c":9,"s":"k","E":-0.39,"j":11.91},{"c":9,"s":"k","E":-0.70,"j":11.87},{"c":9,"s":"k","E":-1.15,"j":11.83},{"c":9,"s":"k","E":-1.60,"j":11.76},{"c":9,"s":"k","E":-1.83,"j":11.71},{"c":9,"s":"k","E":-2.05,"j":11.55},{"c":9,"s":"k","E":-2.28,"j":11.44},{"c":9,"s":"k","E":-2.51,"j":11.39},{"c":9,"s":"k","E":-2.66,"j":11.28},{"c":9,"s":"k","E":-2.84,"j":10.89},{"c":9,"s":"k","E":-3.02,"j":10.26},{"c":9,"s":"k","E":-3.14,"j":9.55},{"c":9,"s":"k","E":-3.18,"j":8.53},{"c":9,"s":"k","E":-3.15,"j":8.97},{"c":9,"s":"k","E":-3.08,"j":9.08},{"c":9,"s":"k","E":-3.00,"j":8.85},{"c":9,"s":"k","E":-2.93,"j":8.61},{"c":9,"s":"k","E":-2.86,"j":8.82},{"c":9,"s":"k","E":-2.79,"j":9.40},{"c":9,"s":"k","E":-2.72,"j":9.55},{"c":9,"s":"k","E":-2.64,"j":9.48},{"c":9,"s":"k","E":-2.57,"j":9.87},{"c":9,"s":"k","E":-2.51,"j":10.29},{"c":9,"s":"k","E":-2.39,"j":10.55},{"c":9,"s":"k","E":-2.25,"j":10.39},{"c":9,"s":"k","E":-2.14,"j":10.11},{"c":9,"s":"k","E":-2.01,"j":9.90},{"c":9,"s":"k","E":-1.92,"j":10.11},{"c":9,"s":"k","E":-1.83,"j":10.81},{"c":9,"s":"k","E":-1.74,"j":11.28},{"c":9,"s":"k","E":-1.60,"j":11.39},{"c":9,"s":"k","E":-1.37,"j":11.44},{"c":9,"s":"k","E":-1.15,"j":11.60},{"c":9,"s":"k","E":-0.39,"j":11.76},
{"c":9,"s":"r","E":-0.39,"j":11.91},{"c":9,"s":"r","E":-0.92,"j":11.80},{"c":9,"s":"r","E":-1.15,"j":11.60},{"c":9,"s":"r","E":-1.20,"j":11.24},{"c":9,"s":"r","E":-1.28,"j":11.05},{"c":9,"s":"r","E":-1.42,"j":10.92},{"c":9,"s":"r","E":-1.60,"j":10.86},{"c":9,"s":"r","E":-1.83,"j":10.66},{"c":9,"s":"r","E":-2.05,"j":10.29},{"c":9,"s":"r","E":-2.28,"j":9.92},{"c":9,"s":"r","E":-2.46,"j":9.63},{"c":9,"s":"r","E":-2.59,"j":9.24},{"c":9,"s":"r","E":-2.66,"j":8.69},{"c":9,"s":"r","E":-2.69,"j":7.90},{"c":9,"s":"r","E":-2.70,"j":7.20},{"c":9,"s":"r","E":-2.66,"j":8.06},{"c":9,"s":"r","E":-2.59,"j":8.53},{"c":9,"s":"r","E":-2.50,"j":8.72},{"c":9,"s":"r","E":-2.37,"j":8.61},{"c":9,"s":"r","E":-2.23,"j":8.38},{"c":9,"s":"r","E":-2.14,"j":8.19},{"c":9,"s":"r","E":-2.11,"j":7.59},{"c":9,"s":"r","E":-2.09,"j":7.20},{"c":9,"s":"r","E":-2.06,"j":8.06},{"c":9,"s":"r","E":-2.03,"j":9.63},{"c":9,"s":"r","E":-1.96,"j":9.92},{"c":9,"s":"r","E":-1.83,"j":10.03},{"c":9,"s":"r","E":-1.63,"j":9.87},{"c":9,"s":"r","E":-1.51,"j":10.11},{"c":9,"s":"r","E":-1.37,"j":10.58},{"c":9,"s":"r","E":-1.26,"j":10.89},{"c":9,"s":"r","E":-1.15,"j":11.28},{"c":9,"s":"r","E":-0.92,"j":11.68},{"c":9,"s":"r","E":-0.39,"j":11.72},
{"c":9,"s":"b","E":-0.39,"j":12.54},{"c":9,"s":"b","E":-0.51,"j":12.59},{"c":9,"s":"b","E":-0.58,"j":12.39},{"c":9,"s":"b","E":-0.70,"j":12.15},{"c":9,"s":"b","E":-0.92,"j":12.07},{"c":9,"s":"b","E":-1.06,"j":11.87},{"c":9,"s":"b","E":-1.15,"j":11.55},{"c":9,"s":"b","E":-1.24,"j":11.24},{"c":9,"s":"b","E":-1.37,"j":11.05},{"c":9,"s":"b","E":-1.60,"j":10.73},{"c":9,"s":"b","E":-1.83,"j":10.42},{"c":9,"s":"b","E":-2.05,"j":10.17},{"c":9,"s":"b","E":-2.28,"j":9.87},{"c":9,"s":"b","E":-2.51,"j":9.60},{"c":9,"s":"b","E":-2.63,"j":9.13},{"c":9,"s":"b","E":-2.68,"j":8.50},{"c":9,"s":"b","E":-2.59,"j":8.97},{"c":9,"s":"b","E":-2.46,"j":9.13},{"c":9,"s":"b","E":-2.32,"j":9.04},{"c":9,"s":"b","E":-2.19,"j":8.69},{"c":9,"s":"b","E":-2.10,"j":8.06},{"c":9,"s":"b","E":-2.02,"j":7.59},{"c":9,"s":"b","E":-1.96,"j":8.22},{"c":9,"s":"b","E":-1.90,"j":8.69},{"c":9,"s":"b","E":-1.85,"j":8.56},{"c":9,"s":"b","E":-1.78,"j":8.72},{"c":9,"s":"b","E":-1.71,"j":9.32},{"c":9,"s":"b","E":-1.62,"j":9.76},{"c":9,"s":"b","E":-1.53,"j":9.55},{"c":9,"s":"b","E":-1.46,"j":9.00},{"c":9,"s":"b","E":-1.40,"j":8.38},{"c":9,"s":"b","E":-1.33,"j":9.00},{"c":9,"s":"b","E":-1.26,"j":9.95},{"c":9,"s":"b","E":-1.20,"j":10.42},{"c":9,"s":"b","E":-1.17,"j":10.89},{"c":9,"s":"b","E":-1.12,"j":11.21},{"c":9,"s":"b","E":-1.03,"j":11.44},{"c":9,"s":"b","E":-0.92,"j":11.52},{"c":9,"s":"b","E":-0.39,"j":11.71},
{"c":10,"s":"k","E":-1.74,"j":5.77},{"c":10,"s":"k","E":-2.05,"j":5.74},{"c":10,"s":"k","E":-2.39,"j":5.70},{"c":10,"s":"k","E":-2.69,"j":5.63},{"c":10,"s":"k","E":-2.78,"j":5.52},{"c":10,"s":"k","E":-2.89,"j":4.92},{"c":10,"s":"k","E":-3.02,"j":4.13},{"c":10,"s":"k","E":-3.14,"j":3.58},{"c":10,"s":"k","E":-3.21,"j":3.19},{"c":10,"s":"k","E":-3.16,"j":3.00},{"c":10,"s":"k","E":-3.08,"j":2.64},{"c":10,"s":"k","E":-3.01,"j":2.37},{"c":10,"s":"k","E":-2.96,"j":2.64},{"c":10,"s":"k","E":-2.91,"j":3.50},{"c":10,"s":"k","E":-2.85,"j":4.37},{"c":10,"s":"k","E":-2.80,"j":5.08},{"c":10,"s":"k","E":-2.73,"j":5.42},{"c":10,"s":"k","E":-2.51,"j":5.61},{"c":10,"s":"k","E":-2.05,"j":5.70},{"c":10,"s":"k","E":-1.74,"j":5.70},
{"c":10,"s":"r","E":-0.79,"j":5.89},{"c":10,"s":"r","E":-1.15,"j":5.86},{"c":10,"s":"r","E":-1.60,"j":5.83},{"c":10,"s":"r","E":-1.94,"j":5.74},{"c":10,"s":"r","E":-2.14,"j":5.63},{"c":10,"s":"r","E":-2.28,"j":5.39},{"c":10,"s":"r","E":-2.44,"j":4.76},{"c":10,"s":"r","E":-2.59,"j":4.01},{"c":10,"s":"r","E":-2.71,"j":3.53},{"c":10,"s":"r","E":-2.73,"j":3.31},{"c":10,"s":"r","E":-2.64,"j":3.35},{"c":10,"s":"r","E":-2.53,"j":3.19},{"c":10,"s":"r","E":-2.44,"j":3.00},{"c":10,"s":"r","E":-2.39,"j":3.06},{"c":10,"s":"r","E":-2.35,"j":3.50},{"c":10,"s":"r","E":-2.29,"j":4.37},{"c":10,"s":"r","E":-2.21,"j":5.08},{"c":10,"s":"r","E":-2.12,"j":5.47},{"c":10,"s":"r","E":-1.94,"j":5.67},{"c":10,"s":"r","E":-1.60,"j":5.74},{"c":10,"s":"r","E":-0.79,"j":5.80},
{"c":10,"s":"b","E":-0.82,"j":6.05},{"c":10,"s":"b","E":-1.15,"j":6.02},{"c":10,"s":"b","E":-1.60,"j":5.94},{"c":10,"s":"b","E":-1.94,"j":5.83},{"c":10,"s":"b","E":-2.01,"j":5.67},{"c":10,"s":"b","E":-2.07,"j":5.31},{"c":10,"s":"b","E":-2.19,"j":4.79},{"c":10,"s":"b","E":-2.37,"j":4.45},{"c":10,"s":"b","E":-2.55,"j":4.29},{"c":10,"s":"b","E":-2.73,"j":4.13},{"c":10,"s":"b","E":-2.59,"j":4.04},{"c":10,"s":"b","E":-2.46,"j":3.79},{"c":10,"s":"b","E":-2.32,"j":3.35},{"c":10,"s":"b","E":-2.23,"j":2.91},{"c":10,"s":"b","E":-2.17,"j":2.75},{"c":10,"s":"b","E":-2.12,"j":3.00},{"c":10,"s":"b","E":-2.05,"j":3.66},{"c":10,"s":"b","E":-1.98,"j":4.60},{"c":10,"s":"b","E":-1.92,"j":5.20},{"c":10,"s":"b","E":-1.83,"j":5.52},{"c":10,"s":"b","E":-1.60,"j":5.67},{"c":10,"s":"b","E":-1.15,"j":5.80},{"c":10,"s":"b","E":-0.82,"j":5.86}
],
"labels": [
{"t":"2-BT","E":-0.876,"j":50.83},{"t":"3-BT","E":-0.774,"j":47.77},{"t":"2,3-DBT","E":-0.989,"j":41.68},{"t":"2,4-DBT","E":-0.977,"j":35.63},{"t":"2,5-DBT","E":-1.045,"j":30.74},{"t":"3,4-DBT","E":-0.989,"j":24.18},{"t":"2,3,4-TBT","E":-1.091,"j":18.96},{"t":"2,3,5-TBT","E":-1.068,"j":15.38},{"t":"TeBT","E":-0.853,"j":10.11},{"t":"BB","E":-0.887,"j":3.27}
],
"barV": [{"E":-3.422,"j":26.84,"j2":31.84}],
"barH": [{"E":-3.497,"E2":-3.341,"j":31.84},{"E":-3.497,"E2":-3.341,"j":26.84}],
"ytI": [{"t":"j/cv","E":-3.83,"j":19.72}],
"ytN": [{"t":"/ A cm","E":-3.83,"j":22.51},{"t":"mol","E":-3.83,"j":25.85},{"t":"dm","E":-3.83,"j":28.12},{"t":"V","E":-3.83,"j":29.94},{"t":"s","E":-3.83,"j":31.98}],
"ytS": [{"t":"1/2","E":-3.874,"j":21.27},{"t":"-2","E":-3.874,"j":25.25},{"t":"-1","E":-3.874,"j":27.51},{"t":"3","E":-3.874,"j":29.55},{"t":"-1/2","E":-3.874,"j":30.62},{"t":"1/2","E":-3.874,"j":32.50}]
},
"layer": [
{
"data": {"name": "cv"},
"mark": {"type": "line", "strokeWidth": 1.8, "order": null, "clip": true},
"encoding": {
"x": {"field": "E", "type": "quantitative", "scale": {"domain": [-3.705, -0.209], "nice": false, "zero": false},
 "axis": {"orient": "bottom", "values": [-3, -2, -1], "tickSize": -15, "tickWidth": 1.5, "tickColor": "#333", "domainColor": "#333", "domainWidth": 1.5, "labelPadding": 30, "labelFontSize": 17, "labelFont": "Liberation Sans", "labelColor": "#222", "labelExpr": "'-' + abs(datum.value)", "title": null}},
"y": {"field": "j", "type": "quantitative", "scale": {"domain": [0, 53.77], "nice": false, "zero": false},
 "axis": {"orient": "left", "ticks": false, "labels": false, "domain": true, "domainColor": "#333", "domainWidth": 1.5, "title": null}},
"color": {"field": "s", "type": "nominal", "scale": {"domain": ["k", "r", "b"], "range": ["#111111", "#ee1515", "#1e32e6"]}, "legend": null},
"strokeDash": {"field": "s", "type": "nominal", "scale": {"domain": ["k", "r", "b"], "range": [[7, 3, 1.3, 3, 1.3, 3], [1, 0], [8, 4]]}, "legend": null},
"detail": {"field": "c", "type": "nominal"}
}
},
{
"data": {"name": "labels"},
"mark": {"type": "text", "align": "left", "baseline": "middle", "fontSize": 26.5, "font": "Liberation Sans", "color": "#111"},
"encoding": {
"x": {"field": "E", "type": "quantitative", "axis": {"orient": "top", "ticks": false, "labels": false, "domainColor": "#333", "domainWidth": 1.5, "title": null}},
"y": {"field": "j", "type": "quantitative", "axis": null},
"text": {"field": "t"}
}
},
{
"data": {"name": "barV"},
"mark": {"type": "rule", "color": "#333", "strokeWidth": 1.5},
"encoding": {
"x": {"field": "E", "type": "quantitative", "axis": null},
"y": {"field": "j", "type": "quantitative", "axis": null},
"y2": {"field": "j2"}
}
},
{
"data": {"name": "barH"},
"mark": {"type": "rule", "color": "#333", "strokeWidth": 1.5},
"encoding": {
"x": {"field": "E", "type": "quantitative", "axis": null},
"x2": {"field": "E2"},
"y": {"field": "j", "type": "quantitative", "axis": null}
}
},
{
"data": {"values": [{"t": "5", "E": -3.544, "j": 29.2}]},
"mark": {"type": "text", "align": "center", "baseline": "middle", "fontSize": 25, "font": "Liberation Sans", "color": "#111"},
"encoding": {
"x": {"field": "E", "type": "quantitative", "axis": null},
"y": {"field": "j", "type": "quantitative", "axis": null},
"text": {"field": "t"}
}
},
{
"data": {"values": [{"t": "j/cv", "E": -3.673, "j": 32.45}]},
"mark": {"type": "text", "align": "left", "baseline": "alphabetic", "fontSize": 35, "fontStyle": "italic", "font": "Liberation Sans", "color": "#111"},
"encoding": {
"x": {"field": "E", "type": "quantitative", "axis": null},
"y": {"field": "j", "type": "quantitative", "axis": null},
"text": {"field": "t"}
}
},
{
"data": {"values": [{"t": "1/2", "E": -3.279, "j": 33.63}]},
"mark": {"type": "text", "align": "left", "baseline": "alphabetic", "fontSize": 17, "font": "Liberation Sans", "color": "#111"},
"encoding": {
"x": {"field": "E", "type": "quantitative", "axis": null},
"y": {"field": "j", "type": "quantitative", "axis": null},
"text": {"field": "t"}
}
},
{
"data": {"values": [{"t": "E", "E": -2.47, "j": -2.17}]},
"mark": {"type": "text", "align": "left", "baseline": "middle", "fontSize": 21, "fontStyle": "italic", "font": "Liberation Sans", "color": "#111"},
"encoding": {
"x": {"field": "E", "type": "quantitative", "axis": null},
"y": {"field": "j", "type": "quantitative", "axis": null},
"text": {"field": "t"}
}
},
{
"data": {"values": [{"t": "vs Fc⁺|Fc / V", "E": -2.336, "j": -2.17}]},
"mark": {"type": "text", "align": "left", "baseline": "middle", "fontSize": 21, "font": "Liberation Sans", "color": "#111"},
"encoding": {
"x": {"field": "E", "type": "quantitative", "axis": null},
"y": {"field": "j", "type": "quantitative", "axis": null},
"text": {"field": "t"}
}
},
{
"data": {"name": "ytI"},
"mark": {"type": "text", "align": "left", "baseline": "alphabetic", "angle": 270, "fontSize": 21, "fontStyle": "italic", "font": "Liberation Sans", "color": "#111"},
"encoding": {
"x": {"field": "E", "type": "quantitative", "axis": null},
"y": {"field": "j", "type": "quantitative", "axis": null},
"text": {"field": "t"}
}
},
{
"data": {"name": "ytN"},
"mark": {"type": "text", "align": "left", "baseline": "alphabetic", "angle": 270, "fontSize": 21, "font": "Liberation Sans", "color": "#111"},
"encoding": {
"x": {"field": "E", "type": "quantitative", "axis": null},
"y": {"field": "j", "type": "quantitative", "axis": null},
"text": {"field": "t"}
}
},
{
"data": {"name": "ytS"},
"mark": {"type": "text", "align": "left", "baseline": "alphabetic", "angle": 270, "fontSize": 14, "font": "Liberation Sans", "color": "#111"},
"encoding": {
"x": {"field": "E", "type": "quantitative", "axis": null},
"y": {"field": "j", "type": "quantitative", "axis": null},
"text": {"field": "t"}
}
}
]
}
